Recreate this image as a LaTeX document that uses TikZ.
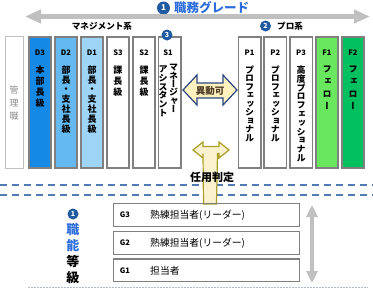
\documentclass[tikz,border=0pt]{standalone}
\usepackage{fontspec}
\setmainfont{Noto Sans CJK JP}
\newfontfamily\jpv[RawFeature=+vert]{Noto Sans CJK JP}
\usetikzlibrary{arrows.meta}
\definecolor{dthree}{RGB}{20,138,230}
\definecolor{dtwo}{RGB}{100,185,240}
\definecolor{done}{RGB}{158,212,245}
\definecolor{fone}{RGB}{105,232,95}
\definecolor{ftwo}{RGB}{0,192,95}
\definecolor{colborder}{RGB}{128,128,128}
\definecolor{circblue}{RGB}{32,90,160}
\definecolor{titleblue}{RGB}{45,110,220}
\definecolor{arrgray}{RGB}{192,192,192}
\definecolor{dashblue}{RGB}{80,122,182}
\definecolor{dotgray}{RGB}{175,185,205}
\definecolor{yel}{RGB}{255,242,190}
\definecolor{navy}{RGB}{40,70,130}
\definecolor{olive}{RGB}{170,160,40}
\definecolor{txtbrown}{RGB}{80,62,40}
\begin{document}
\begin{tikzpicture}[x=1pt,y=-1pt,
  col/.style={draw=colborder, line width=1.6pt, minimum width=22.4pt, minimum height=131.4pt, inner sep=0pt},
  clab/.style={font=\bfseries\fontsize{7.5}{8}\selectfont, inner sep=0pt},
  vtext/.style={font=\jpv\bfseries\fontsize{9}{#1}\selectfont, align=center, anchor=north, inner sep=0pt},
  vtext/.default=9.5,
  circ/.style={circle, fill=circblue, text=white, font=\bfseries\fontsize{7}{7}\selectfont, inner sep=0pt, minimum size=11pt},
  gbox/.style={draw=colborder, line width=1.4pt, minimum width=185.6pt, minimum height=22.6pt, inner sep=0pt},
  glab/.style={font=\bfseries\fontsize{7.5}{8}\selectfont, inner sep=0pt},
  gtext/.style={font=\fontsize{9.8}{10}\selectfont, anchor=west, inner sep=0pt},
  dashline/.style={draw=dashblue, line width=1.6pt, dash pattern=on 7pt off 5pt},
  bigarrow/.style={draw=arrgray, line width=5pt, {Triangle[width=13pt,length=16pt]}-{Triangle[width=13pt,length=16pt]}}
]
\useasboundingbox (0,0) rectangle (373,290);
\fill[white] (0,0) rectangle (373,290);

% title
\node[circ, minimum size=13pt, font=\bfseries\fontsize{8}{8}\selectfont] (c1) at (163.5,8) {1};
\node[font=\bfseries\fontsize{12.5}{13}\selectfont, text=titleblue, anchor=west, inner sep=0pt] (title) at (174,8) {職務グレード};
\coordinate (tl) at (25,16.5);
\coordinate (tr) at (370,16.5);
\draw[bigarrow] (tl) -- (tr);

% group labels
\node[font=\bfseries\fontsize{8.6}{9}\selectfont, inner sep=0pt] (mgmt) at (102,26.5) {マネジメント系};
\node[circ] (c2) at (265.5,26) {2};
\node[font=\bfseries\fontsize{8.6}{9}\selectfont, anchor=west, inner sep=0pt] (pro) at (277,26) {プロ系};

% columns
\node[draw=arrgray, line width=0.9pt, minimum width=18pt, minimum height=132.5pt, inner sep=0pt] (kanri) at (14,102.5) {};
\node[col, fill=dthree] (d3) at (40,102.5) {};
\node[col, fill=dtwo] (d2) at (66,102.5) {};
\node[col, fill=done] (d1) at (92,102.5) {};
\node[col] (s3) at (118,102.5) {};
\node[col] (s2) at (144,102.5) {};
\node[col] (s1) at (169.5,102.5) {};
\node[col] (p1) at (249.5,102.5) {};
\node[col] (p2) at (275.3,102.5) {};
\node[col] (p3) at (301.1,102.5) {};
\node[col, fill=fone] (f1) at (327,102.5) {};
\node[col, fill=ftwo] (f2) at (353,102.5) {};

\node[circ] (c3) at (167,35) {3};

% column labels
\node[clab] (ld3) at (40,53) {D3};
\node[clab] (ld2) at (66,53) {D2};
\node[clab] (ld1) at (92,53) {D1};
\node[clab] (ls3) at (118,53) {S3};
\node[clab] (ls2) at (144,53) {S2};
\node[clab] (ls1) at (168,53) {S1};
\node[clab] (lp1) at (249.5,53) {P1};
\node[clab] (lp2) at (275.3,53) {P2};
\node[clab] (lp3) at (301.1,53) {P3};
\node[clab] (lf1) at (327,53) {F1};
\node[clab] (lf2) at (353,53) {F2};

% vertical texts
\node[font=\fontsize{9}{12.7}\selectfont, text=black!45, align=center, inner sep=0pt] (tkanri) at (14,103) {管\\理\\職};
\node[vtext=11.2] (td3) at (40,65.5) {本\\部\\長\\級};
\node[vtext=9.8] (td2) at (66,65.5) {部\\長\\・\\支\\社\\長\\級};
\node[vtext=9.8] (td1) at (92,65.5) {部\\長\\・\\支\\社\\長\\級};
\node[vtext=11] (ts3) at (118,65.5) {課\\長\\級};
\node[vtext=11] (ts2) at (144,65.5) {課\\長\\級};
\node[vtext=8.4] (ts1a) at (173.5,64) {マ\\ネ\\ー\\ジ\\ャ\\ー};
\node[vtext=8.8] (ts1b) at (163,65.5) {ア\\シ\\ス\\タ\\ン\\ト};
\node[vtext=8.5] (tp1) at (249.5,65.5) {プ\\ロ\\フ\\ェ\\ッ\\シ\\ョ\\ナ\\ル};
\node[vtext=8.5] (tp2) at (275.3,65.5) {プ\\ロ\\フ\\ェ\\ッ\\シ\\ョ\\ナ\\ル};
\node[vtext=8.8] (tp3) at (301.1,65.5) {高\\度\\プ\\ロ\\フ\\ェ\\ッ\\シ\\ョ\\ナ\\ル};
\node[vtext=12.5] (tf1) at (327,65.5) {フ\\ェ\\ロ\\ー};
\node[vtext=12.5] (tf2) at (353,65.5) {フ\\ェ\\ロ\\ー};

% 異動可 arrow
\draw[fill=yel, draw=navy, line width=1.2pt, line join=miter]
  (183,90) -- (197,75) -- (197,83) -- (223,83) -- (223,75) -- (237,90)
  -- (223,105) -- (223,98) -- (197,98) -- (197,105) -- cycle;
\node[font=\bfseries\fontsize{9.5}{10}\selectfont, text=txtbrown, inner sep=0pt] (idou) at (210,90.5) {異動可};

% dashed lines
\coordinate (da1) at (0,185);
\coordinate (da2) at (373,185);
\coordinate (db1) at (0,195);
\coordinate (db2) at (373,195);
\draw[dashline] (da1) -- (da2);
\draw[dashline] (db1) -- (db2);

% 任用判定 arrow
\draw[fill=yel!90!olive!60, draw=olive, line width=1.2pt, line join=miter]
  (193,150) -- (203,142) -- (203,146.5) -- (219,146.5) -- (219,142) -- (229,150)
  -- (219,158) -- (219,153.5) -- (217.5,153.5) -- (216.5,204) -- (203.5,204)
  -- (203,153.5) -- (203,153.5) -- (203,158) -- cycle;
\node[font=\bfseries\fontsize{11}{11}\selectfont, inner sep=0pt] (ninyo) at (212,177) {任用判定};

% G boxes
\node[gbox] (g3) at (206.5,215) {};
\node[gbox] (g2) at (206.5,243) {};
\node[gbox] (g1) at (206.5,270.3) {};
\node[glab] (lg3) at (125,215) {G3};
\node[glab] (lg2) at (125,243) {G2};
\node[glab] (lg1) at (125,270.3) {G1};
\node[gtext] (tg3) at (150,215) {熟練担当者(リーダー)};
\node[gtext] (tg2) at (150,243) {熟練担当者(リーダー)};
\node[gtext] (tg1) at (150,270.3) {担当者};

% vertical gray arrow
\coordinate (va1) at (312,205);
\coordinate (va2) at (312,283);
\draw[draw=arrgray, line width=4pt, {Triangle[width=11pt,length=12pt]}-{Triangle[width=11pt,length=12pt]}] (va1) -- (va2);

% left label
\node[circ] (c4) at (73,214) {1};
\node[font=\bfseries\fontsize{13}{16}\selectfont, align=center, anchor=north, inner sep=0pt] (shokuno) at (73,223.5)
  {\textcolor{titleblue}{職}\\\textcolor{titleblue}{能}\\等\\級};

% bottom dotted line
\coordinate (dt1) at (28,287.5);
\coordinate (dt2) at (368,287.5);
\draw[draw=dotgray, line width=1.2pt, dash pattern=on 1.5pt off 1.5pt] (dt1) -- (dt2);
\end{tikzpicture}
\end{document}
